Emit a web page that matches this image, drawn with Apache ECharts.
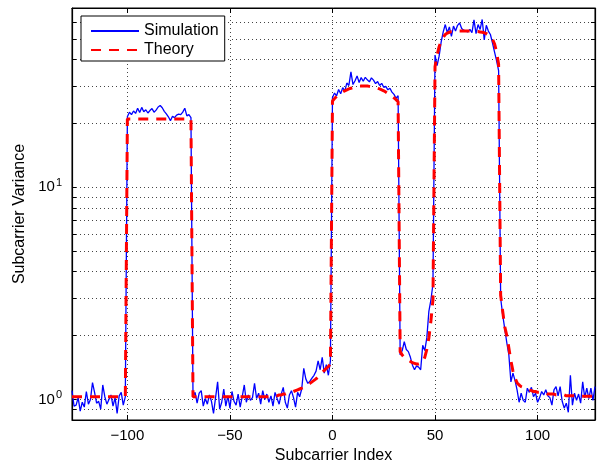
<!DOCTYPE html>
<html>
<head>
<meta charset="utf-8">
<script src="https://cdn.jsdelivr.net/npm/echarts@6/dist/echarts.min.js"></script>
<style>
  html, body { margin: 0; padding: 0; background: #fff; }
  #chart { width: 607px; height: 464px; }
</style>
</head>
<body>
<div id="chart"></div>
<script>
// Subcarrier indices run from -127 to 128, one value per subcarrier.
const firstSubcarrier = -127;

// Measured per-subcarrier variance (guard / band 1 / gap / band 2 / gap / band 3 / guard)
const simGuardLow = [1.10, 0.93, 0.94, 1.02, 0.88, 0.97, 0.92, 1.09, 0.95, 1.00, 1.20, 1.08, 0.96, 0.98,
  0.90, 1.17, 1.03, 0.95, 1.00, 1.05, 0.93, 1.02, 0.86, 1.04, 1.08, 0.94, 1.03];
const simBand1 = [21.5, 22.6, 22.0, 22.9, 22.3, 23.6, 22.5, 23.8, 22.7, 23.2, 22.4, 23.0, 23.5, 22.6, 23.1,
  23.9, 24.3, 23.7, 22.8, 22.2, 21.5, 20.6, 21.6, 21.3, 21.9, 22.1, 22.0, 22.6, 23.6, 21.7, 22.0, 21.3];
const simGap1 = [1.03, 1.08, 0.96, 1.07, 1.10, 0.93, 1.01, 0.95, 1.05, 0.98, 0.86, 1.02, 1.21, 0.90, 0.97,
  1.12, 0.93, 1.04, 0.91, 1.09, 0.98, 0.94, 1.06, 0.92, 1.03, 1.17, 0.97, 1.05, 0.99, 1.02, 1.19, 1.01,
  1.07, 0.95, 1.10, 1.00, 1.06, 0.97, 1.04, 0.93, 1.08, 1.01, 0.95, 1.06, 1.14, 0.97, 0.91, 1.05, 1.10,
  1.02, 0.92, 1.08, 1.03, 1.12, 1.40, 1.25, 1.19, 1.22, 1.26, 1.30, 1.36, 1.52, 1.38, 1.58, 1.33, 1.46,
  1.30, 1.52];
const simBand2 = [26.5, 27.8, 27.0, 28.9, 27.6, 29.5, 28.4, 31.0, 30.2, 35.0, 30.5, 31.8, 33.5, 31.2, 32.9,
  31.6, 33.0, 32.1, 31.4, 32.8, 32.0, 30.8, 31.5, 30.2, 30.9, 29.6, 29.9, 28.8, 29.3, 28.1, 27.4, 26.3, 27.0];
const simGap2 = [1.62, 1.70, 1.87, 1.72, 1.68, 1.58, 1.45, 1.38, 1.44, 1.42, 1.38, 1.80, 1.70, 1.95, 2.60,
  2.95, 3.50];
const simBand3 = [42.0, 37.5, 41.5, 48.5, 54.0, 58.5, 53.5, 57.0, 51.5, 57.5, 54.5, 58.0, 59.5, 56.0, 55.0,
  54.5, 54.0, 55.5, 53.5, 61.5, 53.0, 58.5, 55.5, 61.8, 49.5, 58.0, 54.5, 52.5, 48.0, 43.5, 39.5, 35.5];
const simGuardHigh = [3.00, 2.50, 2.15, 1.85, 1.62, 1.21, 1.33, 1.23, 1.11, 0.97, 1.07, 0.99, 0.97, 1.13,
  1.08, 1.14, 1.03, 1.07, 0.97, 1.02, 1.09, 1.05, 1.11, 1.04, 1.02, 0.94, 1.11, 1.15, 1.04, 1.15, 0.98,
  0.91, 0.96, 0.87, 1.30, 0.94, 1.07, 0.99, 1.06, 0.96, 1.21, 1.02, 1.13, 1.01, 1.13, 0.99, 1.15];

// Predicted per-subcarrier variance
const theoryGuardLow = [1.03, 1.03, 1.03, 1.03, 1.03, 1.03, 1.03, 1.03, 1.03, 1.03, 1.03, 1.03, 1.03, 1.03,
  1.03, 1.03, 1.03, 1.03, 1.03, 1.03, 1.03, 1.03, 1.03, 1.03, 1.03, 1.03, 1.03];
const theoryBand1 = [21.0, 21.0, 21.0, 21.0, 21.0, 21.0, 21.0, 21.0, 21.0, 21.0, 21.0, 21.0, 21.0, 21.0,
  21.0, 21.0, 21.0, 21.0, 21.0, 21.0, 21.0, 21.0, 21.0, 21.0, 21.0, 21.0, 21.0, 21.0, 21.0, 21.0, 21.0, 21.0];
const theoryGap1 = [1.03, 1.03, 1.03, 1.03, 1.03, 1.03, 1.03, 1.03, 1.03, 1.03, 1.03, 1.03, 1.03, 1.03,
  1.03, 1.03, 1.03, 1.03, 1.03, 1.03, 1.03, 1.03, 1.03, 1.03, 1.03, 1.03, 1.03, 1.03, 1.03, 1.03, 1.03,
  1.03, 1.03, 1.03, 1.03, 1.03, 1.03, 1.03, 1.03,
  1.03, 1.04, 1.04, 1.05, 1.05, 1.06, 1.06, 1.07, 1.07, 1.08, 1.09, 1.10, 1.11, 1.12, 1.13, 1.14, 1.16,
  1.17, 1.19, 1.21, 1.23, 1.25, 1.28, 1.31, 1.34, 1.37, 1.40, 1.43, 1.47];
const theoryBand2 = [25.5, 26.2, 26.8, 27.3, 27.7, 28.1, 28.5, 28.8, 29.1, 29.3, 29.5, 29.7, 29.8, 29.9,
  30.0, 30.0, 30.0, 30.0, 29.9, 29.8, 29.7, 29.5, 29.3, 29.1, 28.8, 28.5, 28.1, 27.7, 27.3, 26.9, 26.4,
  25.9, 25.3];
const theoryGap2 = [1.68, 1.62, 1.58, 1.55, 1.53, 1.51, 1.49, 1.48, 1.47, 1.47, 1.48, 1.50, 1.58, 1.72,
  1.95, 2.35, 2.95];
const theoryBand3 = [37.0, 42.0, 46.0, 49.0, 51.0, 52.5, 53.3, 53.8, 54.2, 54.4, 54.5, 54.5, 54.5, 54.5,
  54.5, 54.5, 54.5, 54.5, 54.5, 54.4, 54.3, 54.2, 54.0, 53.8, 53.5, 53.0, 52.3, 51.3, 50.0, 47.5, 43.5, 38.0];
const theoryGuardHigh = [3.10, 2.60, 2.20, 2.00, 1.75, 1.52, 1.36, 1.26, 1.20, 1.17, 1.15, 1.14, 1.13,
  1.12, 1.11, 1.10, 1.09, 1.09, 1.08, 1.08, 1.07, 1.07, 1.07, 1.06, 1.06, 1.06, 1.06, 1.05, 1.05, 1.05,
  1.05, 1.05, 1.04, 1.04, 1.04, 1.04, 1.04, 1.04, 1.04, 1.035, 1.035, 1.035, 1.035, 1.035, 1.035, 1.035, 1.035];

const simulation = [].concat(simGuardLow, simBand1, simGap1, simBand2, simGap2, simBand3, simGuardHigh);
const theory = [].concat(theoryGuardLow, theoryBand1, theoryGap1, theoryBand2, theoryGap2, theoryBand3, theoryGuardHigh);

// Axis ticks
const xTicks = [-100, -50, 0, 50, 100];
const yLabelTicks = [1, 10];
const yTicks = [0.9, 1, 2, 3, 4, 5, 6, 7, 8, 9, 10, 20, 30, 40, 50, 60, 70];

const withIndex = arr => arr.map((v, i) => [firstSubcarrier + i, v]);

const FONT = '"Liberation Sans", Arial, Helvetica, sans-serif';
const dottedGrid = { show: true, lineStyle: { color: '#444', width: 1, type: [1, 3] } };
const frameLine = { show: true, onZero: false, lineStyle: { color: '#000', width: 1.2 } };

const xBase = {
  type: 'value', min: -127, max: 128,
  axisLine: frameLine,
  axisTick: { show: true, inside: true, length: 5, customValues: xTicks, lineStyle: { color: '#000' } }
};
const yBase = {
  type: 'log', logBase: 10, min: 0.8, max: 70,
  axisLine: frameLine,
  axisTick: { show: true, inside: true, length: 4, customValues: yTicks, lineStyle: { color: '#000' } }
};

const chart = echarts.init(document.getElementById('chart'), null, { renderer: 'canvas' });
chart.setOption({
  animation: false,
  backgroundColor: '#fff',
  grid: {
    left: 72, right: 12, top: 8, bottom: 44,
    outerBoundsMode: 'none', containLabel: false,
    show: true, borderColor: '#000', borderWidth: 1
  },
  legend: {
    left: 81, top: 16, orient: 'vertical',
    itemWidth: 48, itemHeight: 12, itemGap: 3,
    padding: [7, 6, 3, 9],
    borderColor: '#000', borderWidth: 1, backgroundColor: '#fff',
    itemStyle: { opacity: 0 },
    textStyle: { fontSize: 16, color: '#000', fontFamily: FONT },
    data: ['Simulation', 'Theory']
  },
  xAxis: [
    Object.assign({}, xBase, {
      position: 'bottom',
      name: 'Subcarrier Index', nameLocation: 'middle', nameGap: 24,
      nameTextStyle: { fontSize: 16, color: '#000', fontFamily: FONT },
      axisLabel: {
        customValues: xTicks, margin: 8, fontSize: 15, color: '#000', fontFamily: FONT,
        formatter: v => String(v).replace('-', '\u2212')
      },
      splitLine: dottedGrid
    }),
    Object.assign({}, xBase, { position: 'top', axisLabel: { show: false }, splitLine: { show: false } })
  ],
  yAxis: [
    Object.assign({}, yBase, {
      position: 'left',
      name: 'Subcarrier Variance', nameLocation: 'middle', nameGap: 44,
      nameTextStyle: { fontSize: 16, color: '#000', fontFamily: FONT },
      axisLabel: {
        customValues: yLabelTicks, margin: 10, color: '#000', fontFamily: FONT,
        formatter: v => '{b|10}{s|' + Math.round(Math.log10(v)) + '}',
        rich: {
          b: { fontSize: 15, color: '#000', fontFamily: FONT },
          s: { fontSize: 11, color: '#000', fontFamily: FONT, padding: [0, 0, 9, 1] }
        }
      },
      splitLine: dottedGrid
    }),
    Object.assign({}, yBase, { position: 'right', axisLabel: { show: false }, splitLine: { show: false } })
  ],
  series: [
    {
      name: 'Simulation', type: 'line', xAxisIndex: 0, yAxisIndex: 0,
      data: withIndex(simulation), symbol: 'none', z: 2,
      lineStyle: { color: '#0000ff', width: 1.3 }, itemStyle: { color: '#0000ff' }
    },
    {
      name: 'Theory', type: 'line', xAxisIndex: 0, yAxisIndex: 0,
      data: withIndex(theory), symbol: 'none', z: 3,
      lineStyle: { color: '#ff0000', width: 3, type: [10, 8] }, itemStyle: { color: '#ff0000' }
    }
  ]
});
</script>
</body>
</html>
